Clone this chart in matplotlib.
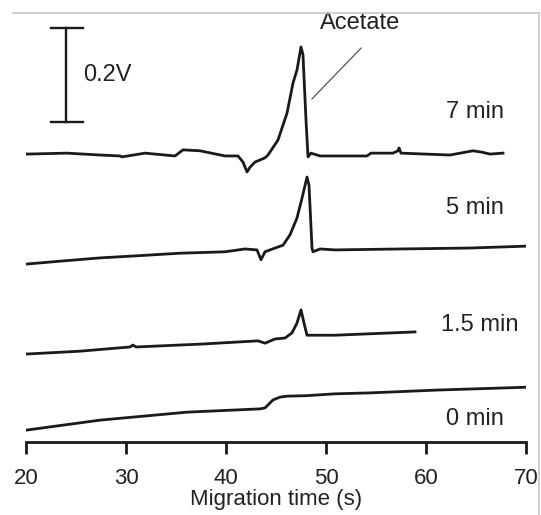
import numpy as np
import matplotlib.pyplot as plt
from matplotlib.lines import Line2D

plt.rcParams["font.family"] = ["Liberation Sans", "DejaVu Sans"]

# electropherograms: migration time (s) and detector signal (V, relative to trace start)
t_0min = [20.1, 27.4, 36.1, 43.4, 43.9, 44.7, 45.4, 46.1, 48.0, 50.9, 54.4, 61.1, 70.0]
v_0min = [0.000, 0.021, 0.038, 0.045, 0.047, 0.064, 0.070, 0.072, 0.073, 0.077, 0.079, 0.085, 0.091]

t_15min = [20.1, 25.4, 30.4, 30.7, 31.0, 37.4, 43.2, 43.9, 44.9, 45.9, 46.6, 47.1, 47.5,
           47.8, 48.1, 50.9, 58.9]
v_15min = [0.000, 0.006, 0.015, 0.019, 0.015, 0.021, 0.028, 0.023, 0.032, 0.034, 0.045,
           0.066, 0.094, 0.066, 0.040, 0.040, 0.047]

t_5min = [20.1, 23.4, 27.4, 30.7, 35.4, 39.9, 41.9, 43.1, 43.5, 43.9, 44.9, 45.7, 46.4,
          47.1, 47.6, 48.1, 48.3, 48.6, 48.7, 49.4, 50.9, 57.4, 64.4, 70.0]
v_5min = [0.000, 0.006, 0.013, 0.017, 0.023, 0.026, 0.032, 0.030, 0.009, 0.026, 0.034,
          0.040, 0.062, 0.098, 0.140, 0.185, 0.168, 0.034, 0.026, 0.032, 0.030, 0.032,
          0.034, 0.038]

t_7min = [20.1, 24.1, 27.4, 29.4, 29.6, 31.9, 34.9, 35.7, 37.4, 39.9, 41.2, 41.7, 42.1,
          42.4, 42.9, 43.9, 44.2, 45.2, 46.1, 46.7, 47.1, 47.5, 47.7, 48.0, 48.2, 48.5,
          49.4, 54.1, 54.5, 56.7, 57.2, 57.3, 57.5, 62.4, 64.7, 65.6, 66.4, 67.7]
v_7min = [0.002, 0.004, 0.000, -0.002, -0.004, 0.004, -0.002, 0.011, 0.009, -0.002,
          -0.002, -0.015, -0.036, -0.026, -0.015, -0.006, 0.000, 0.032, 0.089, 0.153,
          0.181, 0.230, 0.213, 0.074, -0.004, 0.004, -0.002, -0.002, 0.004, 0.004,
          0.009, 0.015, 0.004, 0.000, 0.009, 0.006, 0.002, 0.004]

traces = [
    ("0 min", t_0min, v_0min),
    ("1.5 min", t_15min, v_15min),
    ("5 min", t_5min, v_5min),
    ("7 min", t_7min, v_7min),
]
offsets = [0.0255, 0.1872, 0.3787, 0.6106]      # vertical stacking (V)
label_pos = [(64.9, 0.049), (65.4, 0.249), (64.9, 0.498), (64.9, 0.702)]

SCALE_V = 0.2
ink = "#1a1a1a"
txt = "#222222"

fig = plt.figure(figsize=(5.41, 5.15), dpi=100)
ax = fig.add_axes([26 / 541, 73 / 515, 500 / 541, 442 / 515])
ax.set_xlim(20, 70)
ax.set_ylim(0, 442 / 470)

for (name, t, v), off, (lx, ly) in zip(traces, offsets, label_pos):
    ax.plot(t, np.asarray(v) + off, color=ink, lw=2.0, solid_joinstyle="round")
    ax.text(lx, ly, name, ha="center", va="center", fontsize=17, color=txt)

# 0.2 V scale bar
sb_x, sb_top = 24.0, 0.881
ax.plot([sb_x, sb_x], [sb_top - SCALE_V, sb_top], color=ink, lw=1.7)
for yy in (sb_top - SCALE_V, sb_top):
    ax.plot([22.5, 25.7], [yy, yy], color=ink, lw=1.7)
ax.text(25.7, sb_top - SCALE_V / 2, "0.2V", ha="left", va="center", fontsize=17, color=txt)

# peak annotation
ax.plot([53.5, 48.6], [0.838, 0.730], color="#555555", lw=0.9)
ax.text(53.4, 0.891, "Acetate", ha="center", va="center", fontsize=17, color=txt)

for side in ("left", "top", "right"):
    ax.spines[side].set_visible(False)
ax.spines["bottom"].set_linewidth(2.0)
ax.spines["bottom"].set_color(ink)
ax.set_yticks([])
ax.set_xticks([20, 30, 40, 50, 60, 70])
ax.tick_params(axis="x", direction="out", length=8.5, width=2.0, pad=10,
               labelsize=16, colors=ink, labelcolor=txt)
ax.set_xlabel("Migration time (s)", fontsize=16, color=txt, labelpad=0)
ax.patch.set_alpha(0)

# thin frame along the top and right edges
frame = "#c8c8c8"
fig.add_artist(Line2D([13 / 541, 539 / 541], [1 - 13 / 515, 1 - 13 / 515],
                      color=frame, lw=1.2, transform=fig.transFigure))
fig.add_artist(Line2D([539 / 541, 539 / 541], [0, 1 - 13 / 515],
                      color=frame, lw=1.2, transform=fig.transFigure))

fig.savefig("out.png", dpi=100)
